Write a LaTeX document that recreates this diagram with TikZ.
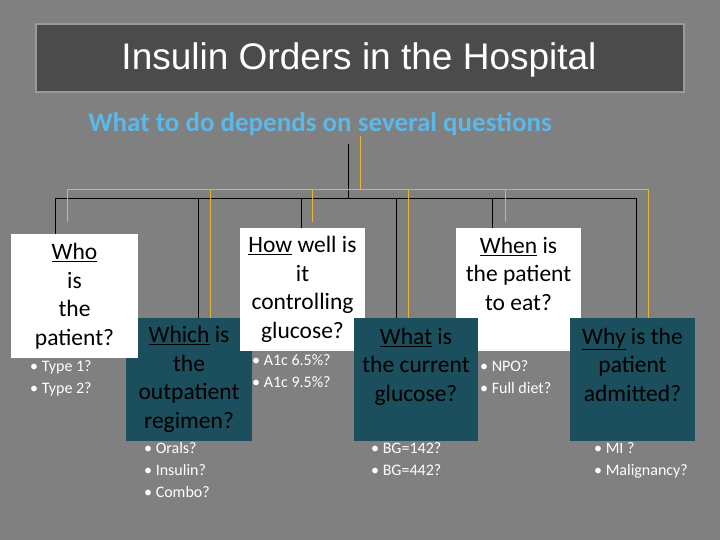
\documentclass[tikz,border=0pt]{standalone}
\usepackage{fontspec}
\setmainfont{Carlito}
\newfontfamily\titlefont{Liberation Sans}
\usetikzlibrary{positioning}
\definecolor{bggray}{HTML}{808080}
\definecolor{bargray}{HTML}{4B4B4B}
\definecolor{boxteal}{HTML}{1B4F5E}
\definecolor{skyblue}{HTML}{5BB8E8}
\definecolor{linegold}{HTML}{E8B431}

\begin{document}
\begin{tikzpicture}[x=1pt,y=-1pt,
    ask/.style={fill=white,inner sep=0,align=center,font=\fontsize{23.5}{28.5}\selectfont},
    askdark/.style={fill=boxteal,inner sep=0,align=center,font=\fontsize{23.5}{28.5}\selectfont},
    bullets/.style={anchor=north west,align=left,text=white,inner sep=0,font=\fontsize{16}{22}\selectfont},
    blackline/.style={draw=black,line width=0.6pt},
    goldline/.style={draw=linegold,line width=0.9pt}]
  % background and title bar
  \fill[bggray] (0,0) rectangle (720,540);
  \useasboundingbox (0,0) rectangle (720,540);
  \draw[fill=bargray,draw=gray!80,line width=1.5pt] (36,24) rectangle (684,92);
  \node[text=white,font=\titlefont\fontsize{37}{42}\selectfont] (title) at (359,60) {Insulin Orders in the Hospital};
  \node[text=skyblue,font=\bfseries\fontsize{27}{32}\selectfont] (sub) at (320,124) {What to do depends on several questions};

  % question boxes
  \node[askdark,minimum width=126,minimum height=123] (which) at (189,379.5) {\underline{Which} is\\the\\outpatient\\regimen?};
  \node[ask,minimum width=127,minimum height=124,text width=120] (who) at (74.5,296) {\underline{Who}\\is\\the\\patient?};
  \node[ask,minimum width=125,minimum height=123] (how) at (302.5,289.5) {\underline{How} well is\\it\\controlling\\glucose?};
  \node[ask,minimum width=125,minimum height=123,text depth=32] (when) at (518.5,289.5) {\underline{When} is\\the patient\\to eat?};
  \node[askdark,minimum width=124,minimum height=123,text depth=30] (what) at (416,379.5) {\underline{What} is\\the current\\glucose?};
  \node[askdark,minimum width=125,minimum height=123,text depth=30] (why) at (632.5,379.5) {\underline{Why} is the\\patient\\admitted?};

  % bullet lists
  \node[bullets] (whoq) at (30,360) {• Type 1?\\• Type 2?};
  \node[bullets] (howq) at (252,354) {• A1c 6.5\%?\\• A1c 9.5\%?};
  \node[bullets] (whenq) at (480,360) {• NPO?\\• Full diet?};
  \node[bullets] (whichq) at (144,442) {• Orals?\\• Insulin?\\• Combo?};
  \node[bullets] (whatq) at (371,442) {• BG=142?\\• BG=442?};
  \node[bullets] (whyq) at (594,442) {• MI ?\\• Malignancy?};

  % black tree
  \coordinate (btop) at (348,144);
  \coordinate (bhub) at (348,198);
  \draw[blackline] (btop) -- (bhub);
  \draw[blackline] (55,198) -- (636,198);
  \foreach \n/\x in {who/55,which/198,how/301,what/396,when/492,why/636}
    \draw[blackline] (\x,198) -- (\x,0 |- \n.north);
  % gold tree
  \coordinate (gtop) at (360,136);
  \draw[goldline] (gtop) -- (360,189);
  \draw[goldline] (67,189) -- (648,189);
  \foreach \x in {67,312,505}
    \draw[goldline] (\x,189) -- (\x,222);
  \foreach \n/\x in {which/210,what/408,why/648}
    \draw[goldline] (\x,189) -- (\x,0 |- \n.north);
\end{tikzpicture}
\end{document}
